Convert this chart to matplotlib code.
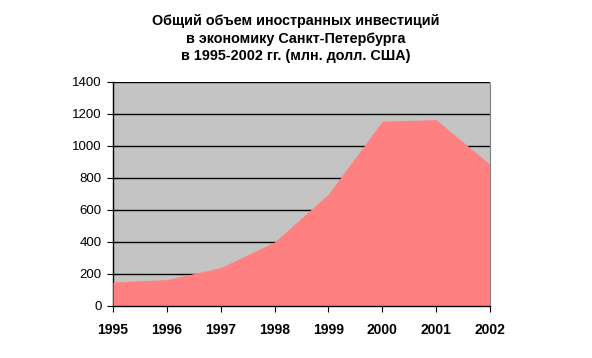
import matplotlib
matplotlib.use("Agg")
import matplotlib.pyplot as plt

years = [1995, 1996, 1997, 1998, 1999, 2000, 2001, 2002]
values = [150, 165, 240, 400, 700, 1155, 1165, 885]
yticks = [0, 200, 400, 600, 800, 1000, 1200, 1400]
title = "Общий объем иностранных инвестиций\nв экономику Санкт-Петербурга\nв 1995-2002 гг. (млн. долл. США)"

plt.rcParams['font.family'] = ['Liberation Sans', 'DejaVu Sans']
fig = plt.figure(figsize=(5.92, 3.58), dpi=100)
ax = fig.add_axes([113/592, 1-306/358, (490-113)/592, (306-82)/358])
ax.set_facecolor('#c4c4c4')
ax.fill_between(years, values, 0, color='#ff8080', linewidth=0, zorder=3)
ax.set_xlim(years[0], years[-1])
ax.set_ylim(0, 1400)
ax.set_yticks(yticks)
ax.set_xticks(years)
ax.yaxis.grid(True, color='black', linewidth=1, zorder=1)
ax.set_axisbelow(True)
ax.spines['top'].set_visible(False)
ax.spines['right'].set_color('#808080')
ax.spines['right'].set_linestyle((0, (1, 1)))
ax.spines['right'].set_zorder(4)
ax.spines['left'].set_linewidth(1)
ax.spines['bottom'].set_linewidth(1)
ax.spines['bottom'].set_zorder(4)
ax.tick_params(axis='y', labelsize=9.5, length=4, direction='out', pad=4)
ax.tick_params(axis='x', labelsize=10, length=4, direction='out', pad=8)
for lbl in ax.get_xticklabels():
    lbl.set_fontweight('bold')
fig.text(0.5, 0.96, title, ha='center', va='top', fontsize=10.4, fontweight='bold', linespacing=1.3)
fig.savefig('out.png', dpi=100)
